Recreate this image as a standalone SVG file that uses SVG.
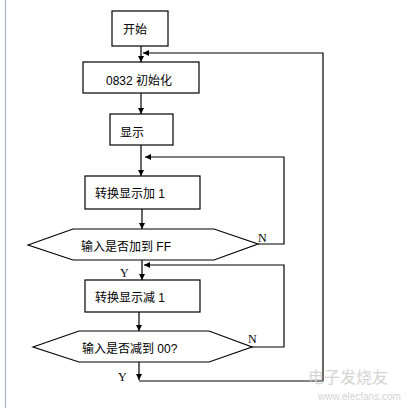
<svg xmlns="http://www.w3.org/2000/svg" width="415" height="408" viewBox="0 0 415 408">
<style>
.box{fill:#fff;stroke:#000;stroke-width:1.2}
.t{font-family:"Liberation Sans","Noto Sans CJK SC",sans-serif;font-size:12px;fill:#000}
.yn{font-family:"Liberation Serif","Noto Sans CJK SC",serif;font-size:12px;fill:#000}
.c{fill:none;stroke:#000;stroke-width:1.2}
.wm{font-family:"Liberation Sans","Noto Sans CJK SC",sans-serif;fill:#d4d4d4}
</style>
<defs>
<marker id="ah" markerUnits="userSpaceOnUse" markerWidth="8" markerHeight="8" refX="6" refY="3" orient="auto">
<path d="M0,0 L6,3 L0,6 Z" fill="#000"/>
</marker>
</defs>
<rect width="415" height="408" fill="#fff"/>
<line x1="5.5" y1="0" x2="5.5" y2="408" stroke="#a8b6c4" stroke-width="1.2"/>
<g id="connectors">
<path class="c" d="M141,46 V62" marker-end="url(#ah)"/>
<path class="c" d="M141,93 V114" marker-end="url(#ah)"/>
<path class="c" d="M141,145 V176" marker-end="url(#ah)"/>
<path class="c" d="M142,209 V229" marker-end="url(#ah)"/>
<path class="c" d="M142,260 V280" marker-end="url(#ah)"/>
<path class="c" d="M139,312 V331" marker-end="url(#ah)"/>
<path class="c" d="M139,362 V380" marker-end="url(#ah)"/>
<path class="c" d="M258,244 H284 V157 H145" marker-end="url(#ah)"/>
<path class="c" d="M252,347 H284 V265 H144" marker-end="url(#ah)"/>
<path class="c" d="M139,381 H323 V53 H143" marker-end="url(#ah)"/>
</g>
<g id="start"><rect class="box" x="112" y="11" width="56" height="35"/><text class="t" x="123" y="34">开始</text></g>
<g id="init"><rect class="box" x="83" y="62" width="116" height="31"/><text class="t" x="106" y="85">0832 初始化</text></g>
<g id="display"><rect class="box" x="110" y="114" width="63" height="31"/><text class="t" x="120" y="137">显示</text></g>
<g id="inc"><rect class="box" x="85" y="176" width="115" height="33"/><text class="t" x="95" y="198">转换显示加 1</text></g>
<g id="dec1"><polygon class="box" points="28,245 73,229 214,229 258,244 214,260 73,260"/><text class="t" x="81" y="251">输入是否加到 FF</text></g>
<g id="dec"><rect class="box" x="85" y="280" width="115" height="32"/><text class="t" x="95" y="302">转换显示减 1</text></g>
<g id="dec2"><polygon class="box" points="33,347 79,331 209,331 252,347 209,362 79,362"/><text class="t" x="82" y="353">输入是否减到 00?</text></g>
<g id="labels">
<text class="yn" x="258" y="242">N</text>
<text class="yn" x="248" y="343">N</text>
<text class="yn" x="120" y="277">Y</text>
<text class="yn" x="118" y="381">Y</text>
</g>
<g id="watermark">
<text class="wm" x="308" y="383" font-size="16">电子发烧友</text>
<text class="wm" x="318" y="400" font-size="10">www.elecfans.com</text>
</g>
</svg>
